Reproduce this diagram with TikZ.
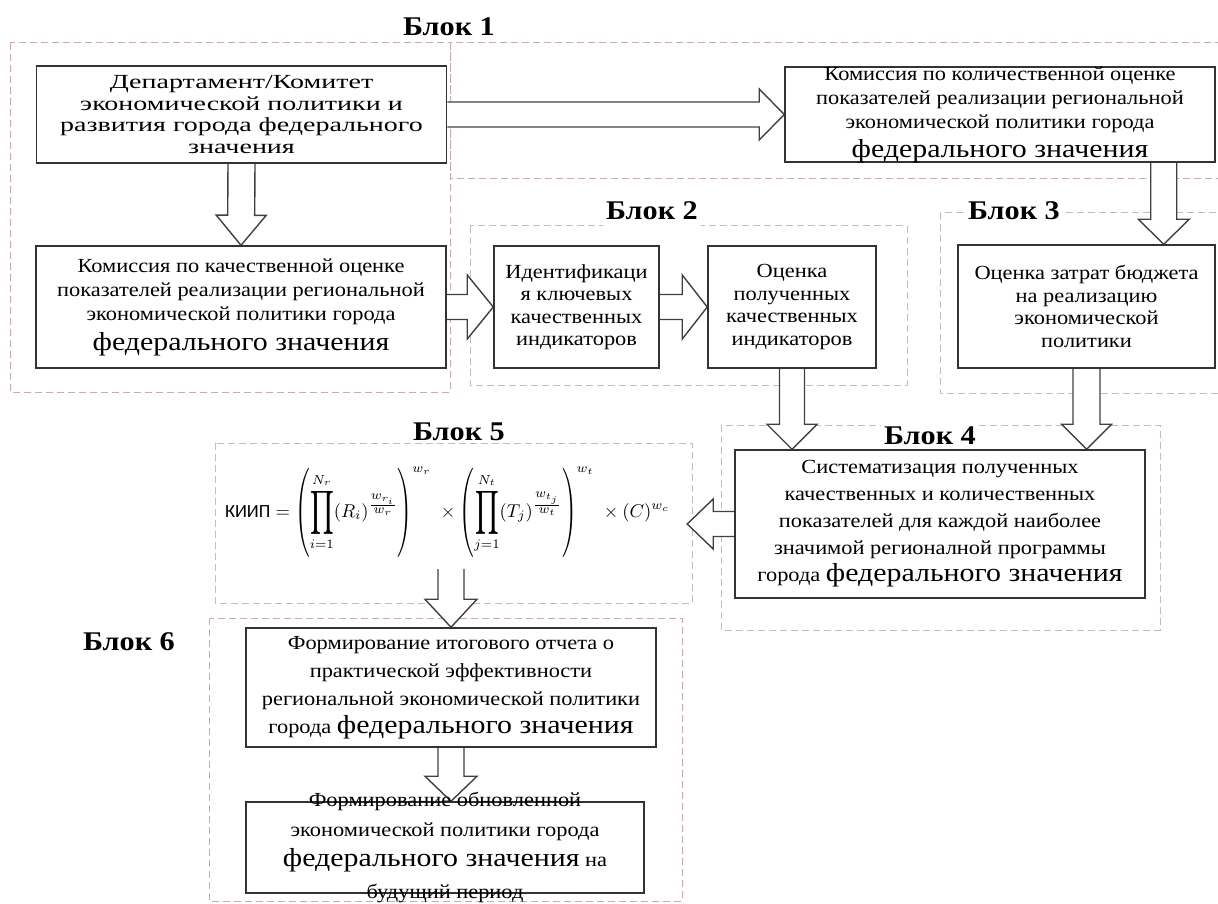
\documentclass[tikz,border=0pt]{standalone}
\usepackage{fontspec}
\usepackage{amsmath}
\usepackage{graphicx}
\setmainfont{Liberation Serif}
\newfontfamily\tfn[FakeStretch=1.12]{Liberation Serif}
\newfontfamily\tfw[FakeStretch=1.4]{Liberation Serif}
\newfontfamily\tfb[FakeStretch=1.15]{Liberation Serif}
\newfontfamily\carl{Carlito}
\usetikzlibrary{calc}
\pgfdeclarelayer{bg}
\pgfdeclarelayer{arr}
\pgfsetlayers{bg,arr,main}
\definecolor{dashc}{RGB}{215,165,172}
\definecolor{dashg}{RGB}{195,188,190}
\newcommand{\bigf}[1]{{\tfb\fontsize{26}{30}\selectfont #1}}
\newcommand{\bigprod}{\mathop{\vcenter{\hbox{\scalebox{1}[1.65]{$\displaystyle\prod$}}}}\limits}
\newcommand{\lpar}{\mathopen{\vcenter{\hbox{\scalebox{1}[1.6]{$\Biggl($}}}}}
\newcommand{\rpar}{\mathclose{\vcenter{\hbox{\scalebox{1}[1.6]{$\Biggr)$}}}}}
\newcommand{\barrow}[5]{%
  \path ($(#2)!#5!(#1)$) coordinate (bb);
  \draw[barrowsty] ($(#1)!#3!90:(#2)$) -- ($(bb)!#3!90:(#2)$) -- ($(bb)!#4!90:(#2)$) -- (#2) -- ($(bb)!#4!-90:(#2)$) -- ($(bb)!#3!-90:(#2)$) -- ($(#1)!#3!-90:(#2)$);
}
\tikzset{
  blk/.style={draw=dashc, line width=1pt, dash pattern=on 7pt off 4pt},
  blkg/.style={blk, draw=dashg},
  box/.style={draw=black!80, line width=1.5pt, fill=white, inner sep=0pt},
  barrowsty/.style={draw=black!75, line width=1.4pt, fill=white, line join=miter},
  blabel/.style={fill=white, inner sep=3pt, font=\tfn\bfseries\fontsize{27}{30}\selectfont},
  txt/.style={align=center, inner sep=0pt, font=\tfn\fontsize{20}{24}\selectfont},
}
\begin{document}
\begin{tikzpicture}[x=1pt,y=-1pt]
\useasboundingbox (0,0) rectangle (1218,904);

% boxes
\node[box, minimum width=410pt, minimum height=97pt,
  label={[txt, font=\tfw\fontsize{20}{21.5}\selectfont]center:{Департамент/Комитет\\экономической политики и\\развития города федерального\\значения}}] (A) at (241.5,114.5) {};
\node[box, minimum width=430pt, minimum height=95pt,
  label={[txt]center:{Комиссия по количественной оценке\\показателей реализации региональной\\экономической политики города\\[5pt]\bigf{федерального значения}}}] (B) at (1000,114.5) {};
\node[box, minimum width=410pt, minimum height=122pt,
  label={[txt]center:{Комиссия по качественной оценке\\показателей реализации региональной\\экономической политики города\\[6pt]\bigf{федерального значения}}}] (C) at (241,307) {};
\node[box, minimum width=165pt, minimum height=122pt,
  label={[txt, font=\tfn\fontsize{20}{22.5}\selectfont]center:{Идентификаци\\я ключевых\\качественных\\индикаторов}}] (D) at (576.5,307) {};
\node[box, minimum width=168pt, minimum height=122pt,
  label={[txt, font=\tfn\fontsize{20}{22.5}\selectfont]center:{Оценка\\полученных\\качественных\\индикаторов}}] (E) at (792,307) {};
\node[box, minimum width=257pt, minimum height=123pt,
  label={[txt, font=\tfn\fontsize{20}{22.5}\selectfont]center:{Оценка затрат бюджета\\на реализацию\\экономической\\политики}}] (F) at (1086.5,306.5) {};
\node[box, minimum width=410pt, minimum height=148pt,
  label={[txt, font=\tfn\fontsize{20}{27}\selectfont]center:{Систематизация полученных\\качественных и количественных\\показателей для каждой наиболее\\значимой регионалной программы\\города \bigf{федерального значения}}}] (G) at (940,524) {};
\node[box, minimum width=410pt, minimum height=119pt,
  label={[txt, font=\tfn\fontsize{20}{28}\selectfont]center:{Формирование итогового отчета о\\практической эффективности\\региональной экономической политики\\города \bigf{федерального значения}}}] (H) at (451,687.5) {};
\node[box, minimum width=398pt, minimum height=91pt,
  label={[txt, font=\tfn\fontsize{20}{30}\selectfont]center:{Формирование обновленной\\экономической политики города\\\bigf{федерального значения} на\\[2pt]будущий период}}] (I) at (445,847.5) {};

\node[inner xsep=17pt, inner ysep=12pt] (formula) at (447.5,512) {\resizebox{445pt}{!}{$\displaystyle \text{\carl КИИП} = \lpar\bigprod_{i=1}^{N_r}(R_i)^{\frac{\scriptstyle w_{r_i}}{\scriptstyle w_r}}\rpar^{w_r}\;\times\lpar\bigprod_{j=1}^{N_t}(T_j)^{\frac{\scriptstyle w_{t_j}}{\scriptstyle w_t}}\rpar^{w_t}\;\times(C)^{w_c}$}};

% block frames and titles
\begin{pgfonlayer}{bg}
\draw[blk] (10,43) rectangle (450,392);
\draw[blk] (450,43) rectangle (1228,179);
\draw[blkg] (470,226) rectangle (907,385);
\draw[blkg] (940,213) rectangle (1228,393);
\draw[blkg] (721,425) rectangle (1160,630);
\draw[blkg] (215,443) rectangle (692,603);
\draw[blk] (209,618) rectangle (682,901);
\node[blabel] (L1) at (449,27) {Блок 1};
\node[blabel, minimum height=36pt] (L2) at (652,211) {Блок 2};
\node[blabel] (L3) at (1014,211) {Блок 3};
\node[blabel] (L4) at (930,436) {Блок 4};
\node[blabel, fill=none] (L5) at (459,432) {Блок 5};
\node[blabel] (L6) at (129,642) {Блок 6};
\end{pgfonlayer}

% arrows
\coordinate (bs) at ($(B.south east)+(-52,0)$);
\coordinate (ft) at ($(F.north east)+(-52,0)$);
\coordinate (eg) at (E.south |- G.north);
\coordinate (fg) at (F.south |- G.north);
\coordinate (gf) at (formula.east |- G.west);
\coordinate (fh) at (H.north |- formula.south);
\coordinate (hi) at (H.south |- I.north);
\begin{pgfonlayer}{arr}
\barrow{A.east}{B.west}{12.5pt}{25.5pt}{25pt}
\barrow{A.south}{C.north}{13.5pt}{25pt}{30pt}
\barrow{bs}{ft}{13pt}{25.5pt}{25pt}
\barrow{C.east}{D.west}{12.5pt}{32pt}{26pt}
\barrow{D.east}{E.west}{12.5pt}{32pt}{25pt}
\barrow{E.south}{eg}{12.5pt}{25pt}{25pt}
\barrow{F.south}{fg}{13.5pt}{25pt}{25pt}
\barrow{G.west}{gf}{12.5pt}{25pt}{26pt}
\barrow{fh}{H.north}{13pt}{26pt}{28pt}
\barrow{H.south}{hi}{13pt}{26pt}{25pt}
\end{pgfonlayer}
\end{tikzpicture}
\end{document}
